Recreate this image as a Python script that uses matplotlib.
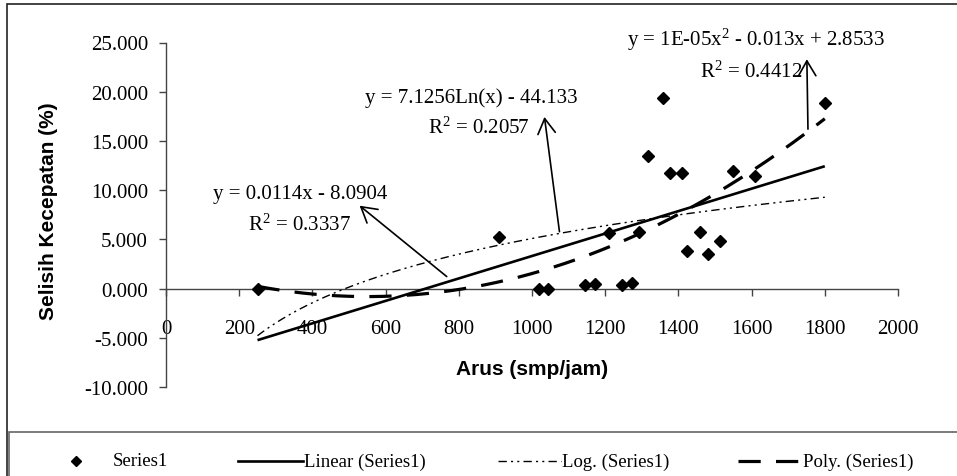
import numpy as np
import matplotlib
matplotlib.use("Agg")
import matplotlib.pyplot as plt
from matplotlib.lines import Line2D
from matplotlib.patches import Rectangle

plt.rcParams['font.family'] = ['Liberation Serif', 'DejaVu Serif']
plt.rcParams['mathtext.fontset'] = 'custom'
plt.rcParams['mathtext.rm'] = 'Liberation Serif'
plt.rcParams['mathtext.it'] = 'Liberation Serif:italic'
plt.rcParams['lines.scale_dashes'] = False

# ---- data ----
arus = [250, 911, 1018, 1045, 1145, 1172, 1211, 1245, 1272, 1291, 1316,
        1359, 1377, 1410, 1423, 1459, 1481, 1514, 1548, 1610, 1800]
selisih = [0.0, 5.2, 0.0, 0.0, 0.4, 0.5, 5.65, 0.4, 0.55, 5.75, 13.5,
           19.35, 11.75, 11.75, 3.85, 5.75, 3.5, 4.85, 11.95, 11.4, 18.85]

lin_coef = [0.0114, -8.0904]
log_coef = [7.1256, -44.133]

xticks = [0, 200, 400, 600, 800, 1000, 1200, 1400, 1600, 1800, 2000]
yticks = [-10, -5, 0, 5, 10, 15, 20, 25]

eq_lin = "y = 0.0114x - 8.0904"
r2_lin = r"R$^\mathregular{2}$ = 0.3337"
eq_log = "y = 7.1256Ln(x) - 44.133"
r2_log = r"R$^\mathregular{2}$ = 0.2057"
eq_poly = r"y = 1E-05x$^\mathregular{2}$ - 0.013x + 2.8533"
r2_poly = r"R$^\mathregular{2}$ = 0.4412"

legend_labels = ["Series1", "Linear (Series1)", "Log. (Series1)", "Poly. (Series1)"]

# ---- figure ----
W, H = 957, 477
fig = plt.figure(figsize=(W / 100, H / 100), dpi=100)
ax = fig.add_axes([166 / W, 1 - 388 / H, (898 - 166) / W, (388 - 43.5) / H])

x = np.array(arus, dtype=float)
y = np.array(selisih, dtype=float)
xs = np.linspace(x.min(), x.max(), 300)

poly_coef = np.polyfit(x, y, 2)

ax.plot(xs, np.polyval(lin_coef, xs), color='black', lw=1.9, solid_capstyle='butt', zorder=3)
ax.plot(xs, log_coef[0] * np.log(xs) + log_coef[1], color='black', lw=1.0,
        dashes=(6, 3, 1.5, 3, 1.5, 3), zorder=3)
ax.plot(xs, np.polyval(poly_coef, xs), color='black', lw=2.3,
        dashes=(16, 11), zorder=3)
ax.plot(x, y, linestyle='none', marker='D', ms=6.2, color='black', zorder=4)

ax.set_xlim(0, 2000)
ax.set_ylim(-10, 25)
ax.set_xticks(xticks)
ax.set_xticklabels([str(t) for t in xticks])
ax.set_yticks(yticks)
ax.set_yticklabels(["%.3f" % t for t in yticks])

for s in ['top', 'right']:
    ax.spines[s].set_visible(False)
ax.spines['bottom'].set_position(('data', 0))
for s in ['left', 'bottom']:
    ax.spines[s].set_color('#444444')
    ax.spines[s].set_linewidth(1.0)
ax.tick_params(axis='x', direction='out', length=5, width=1, color='#444444',
               labelsize=15, pad=17)
ax.tick_params(axis='y', direction='out', length=5, width=1, color='#444444',
               labelsize=15, pad=8)

ax.set_xlabel("Arus (smp/jam)", fontfamily='Liberation Sans', fontweight='bold', fontsize=15)
ax.xaxis.label.set_va('center')
ax.xaxis.set_label_coords(0.5, 0.055)
ax.set_ylabel("Selisih Kecepatan (%)", fontfamily='Liberation Sans', fontweight='bold', fontsize=15)
ax.yaxis.label.set_va('center')
ax.yaxis.set_label_coords(-0.161, 0.514)

# ---- trendline annotations ----
ax.text(366, 9.63, eq_lin, ha='center', va='center', fontsize=15)
ax.text(366, 6.5, r2_lin, ha='center', va='center', fontsize=15)
ax.text(835, 19.47, eq_log, ha='center', va='center', fontsize=15)
ax.text(854, 16.43, r2_log, ha='center', va='center', fontsize=15)
ax.text(1612, 25.35, eq_poly, ha='center', va='center', fontsize=15, clip_on=False)
ax.text(1599, 22.1, r2_poly, ha='center', va='center', fontsize=15)

arrow_kw = dict(arrowstyle='->,head_length=0.6,head_width=0.35', color='black',
                lw=1.2, mutation_scale=18, shrinkA=0, shrinkB=0)
ax.annotate('', xy=(529, 8.42), xytext=(767, 1.22), arrowprops=arrow_kw)
ax.annotate('', xy=(1034, 17.44), xytext=(1075, 5.78), arrowprops=arrow_kw)
ax.annotate('', xy=(1751, 23.3), xytext=(1754, 16.2), arrowprops=arrow_kw, annotation_clip=False)

# ---- chart border and legend box ----
fig.patches.append(Rectangle((7 / W, -0.2), 1.2, 1 - 5 / H + 0.2, transform=fig.transFigure,
                             fill=False, edgecolor='#222222', lw=1.2))
fig.patches.append(Rectangle((9 / W, -0.2), 1.2, 1 - 433 / H + 0.2, transform=fig.transFigure,
                             fill=False, edgecolor='#666666', lw=1.2))

ly = 1 - 462 / H
fig.add_artist(Line2D([76 / W], [ly], marker='D', ms=5.0, color='black', linestyle='none',
                      transform=fig.transFigure))
fig.text(113 / W, ly, legend_labels[0], ha='left', va='center', fontsize=13.5)
fig.add_artist(Line2D([238 / W, 303 / W], [ly, ly], color='black', lw=1.9, transform=fig.transFigure))
fig.text(304 / W, ly, legend_labels[1], ha='left', va='center', fontsize=13.5)
fig.add_artist(Line2D([498 / W, 561 / W], [ly, ly], color='black', lw=1.0,
                      dashes=(6, 3, 1.5, 3, 1.5, 3), transform=fig.transFigure))
fig.text(562 / W, ly, legend_labels[2], ha='left', va='center', fontsize=13.5)
fig.add_artist(Line2D([738 / W, 802 / W], [ly, ly], color='black', lw=2.3,
                      dashes=(16, 11), transform=fig.transFigure))
fig.text(803 / W, ly, legend_labels[3], ha='left', va='center', fontsize=13.5)

fig.savefig("out.png", dpi=100)
